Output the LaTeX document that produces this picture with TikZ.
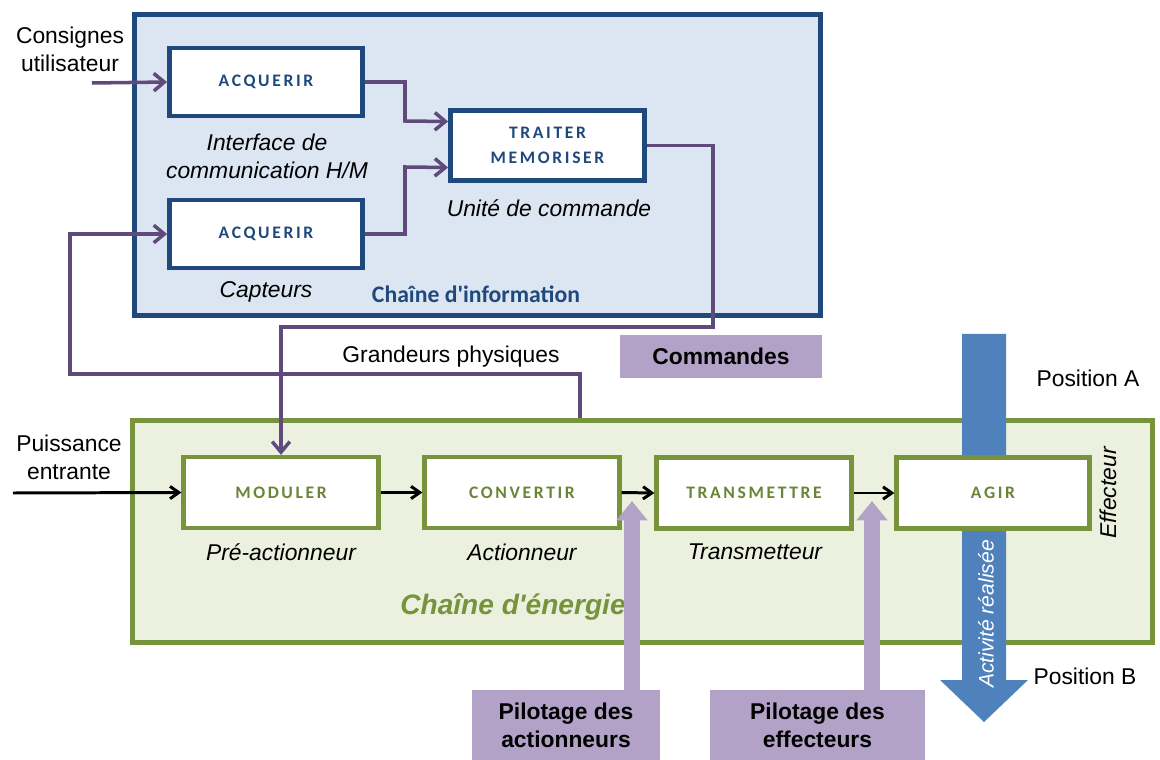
\documentclass[tikz,border=0pt]{standalone}
\usepackage{fontspec}
\setmainfont{Liberation Sans}
\newfontfamily\boxfont[LetterSpace=15]{Carlito}
\newfontfamily\calfont{Carlito}
\usetikzlibrary{arrows.meta}
\definecolor{infoblue}{HTML}{1F497D}
\definecolor{infofill}{HTML}{DCE6F2}
\definecolor{nrjgreen}{HTML}{77933C}
\definecolor{nrjfill}{HTML}{EBF1DE}
\definecolor{cmdpurple}{HTML}{604A7B}
\definecolor{lavender}{HTML}{B3A2C7}
\definecolor{actblue}{HTML}{4F81BD}

\begin{document}
\begin{tikzpicture}[x=0.02cm,y=-0.02cm]
\tikzset{chain/.style = {line width=2.8pt, minimum width=13.72cm, minimum height=6.02cm}}
\tikzset{infobox/.style = {draw=infoblue, line width=2.8pt, fill=white, minimum width=3.86cm, minimum height=1.36cm, text=infoblue, font=\boxfont\bfseries\fontsize{10}{14}\selectfont, align=center}}
\tikzset{nrjbox/.style = {draw=nrjgreen, line width=2.4pt, fill=white, minimum width=3.9cm, minimum height=1.42cm, text=nrjgreen!90!black, font=\boxfont\bfseries\fontsize{10}{14}\selectfont}}
\tikzset{lab/.style = {font=\fontsize{13}{16}\selectfont, align=center}}
\tikzset{ilab/.style = {font=\itshape\fontsize{13}{16}\selectfont, align=center}}
\tikzset{tag/.style = {fill=lavender, font=\bfseries\fontsize{13}{16}\selectfont, align=center}}
\tikzset{cmd/.style = {draw=cmdpurple, line width=2pt, -{Straight Barb[length=6pt,width=10pt]}}}
\tikzset{power/.style = {draw=black, line width=1.7pt, -{Straight Barb[length=5pt,width=7pt]}}}
\tikzset{pilot/.style = {draw=lavender, line width=9pt, -{Triangle[length=11pt,width=17pt]}}}
\useasboundingbox (0,0) rectangle (1160,760);
% chains
\node[chain, draw=infoblue, fill=infofill] (info) at (477.5,165) {};
\node[chain, draw=nrjgreen, fill=nrjfill, minimum width=20.4cm, minimum height=4.44cm] (nrj) at (642.5,531.5) {};
% activity arrow
\fill[actblue] (962,334) -- (1006,334) -- (1006,680) -- (1028,680) -- (984,722) -- (940,680) -- (962,680) -- cycle;
% information chain
\node[infobox] (acq1) at (266,82) {ACQUERIR};
\node[infobox] (acq2) at (266,234) {ACQUERIR};
\node[infobox, minimum width=3.88cm, minimum height=1.4cm] (traiter) at (547.5,145.5) {TRAITER\\MEMORISER};
\node[ilab] (ihm) at (267,156) {Interface de\\communication H/M};
\node[ilab] (capt) at (266,292) {Capteurs};
\node[ilab] (uc) at (549,208) {Unité de commande};
\node[text=infoblue, font=\calfont\bfseries\fontsize{13.5}{16}\selectfont] (infolab) at (476,294) {Chaîne d\textquotesingle information};
% energy chain
\node[nrjbox] (moduler) at (281,492.5) {MODULER};
\node[nrjbox] (convertir) at (522,492.5) {CONVERTIR};
\node[nrjbox] (transmettre) at (754,493) {TRANSMETTRE};
\node[nrjbox, minimum width=3.86cm] (agir) at (993,493) {AGIR};
\node[ilab] (preact) at (281,552) {Pré-actionneur};
\node[ilab] (act) at (522,552) {Actionneur};
\node[ilab] (transm) at (755,552) {Transmetteur};
\node[ilab, rotate=90] (eff) at (1108,493) {Effecteur};
\node[text=nrjgreen, font=\bfseries\itshape\fontsize{16}{19}\selectfont] (nrjlab) at (513,607) {Chaîne d\textquotesingle énergie};
\node[ilab, rotate=90, text=white, font=\itshape\fontsize{12}{14}\selectfont] (real) at (986,614) {Activité réalisée};
% outside labels
\node[lab] (cons) at (70,49) {Consignes\\utilisateur};
\node[lab] (puis) at (69,457) {Puissance\\entrante};
\node[lab] (gp) at (451,357) {Grandeurs physiques};
\node[lab] (posa) at (1088,378) {Position A};
\node[lab] (posb) at (1085,676) {Position B};
\node[tag, minimum width=4.04cm, minimum height=0.86cm] (cmds) at (721,356.5) {Commandes};
\node[tag, minimum width=3.76cm, minimum height=1.4cm] (pil1) at (566,725) {Pilotage des\\actionneurs};
\node[tag, minimum width=4.3cm, minimum height=1.4cm] (pil2) at (817.5,725) {Pilotage des\\effecteurs};
% free ends
\coordinate (cin) at (92,83);
\coordinate (pin) at (13,493);
\coordinate (mes) at (580,418);
\coordinate (p1) at (632,501);
\coordinate (p2) at (872,501);
% edges
\draw[cmd] (cin) -- (acq1.west);
\draw[cmd] (acq1.east) -| (405,121) -- ([yshift=0.48cm]traiter.west);
\draw[cmd] (acq2.east) -| (405,167) -- ([yshift=-0.44cm]traiter.west);
\draw[cmd] (traiter.east) -| (713,327) -| (moduler.north);
\draw[cmd] (mes) |- (70,374) |- (acq2.west);
\draw[power] (pin) -- (moduler.west);
\draw[power] (moduler.east) -- (convertir.west);
\draw[power] (convertir.east) -- (transmettre.west);
\draw[power] (transmettre.east) -- (agir.west);
\draw[pilot] (pil1.north -| p1) -- (p1);
\draw[pilot] (pil2.north -| p2) -- (p2);
\end{tikzpicture}
\end{document}
